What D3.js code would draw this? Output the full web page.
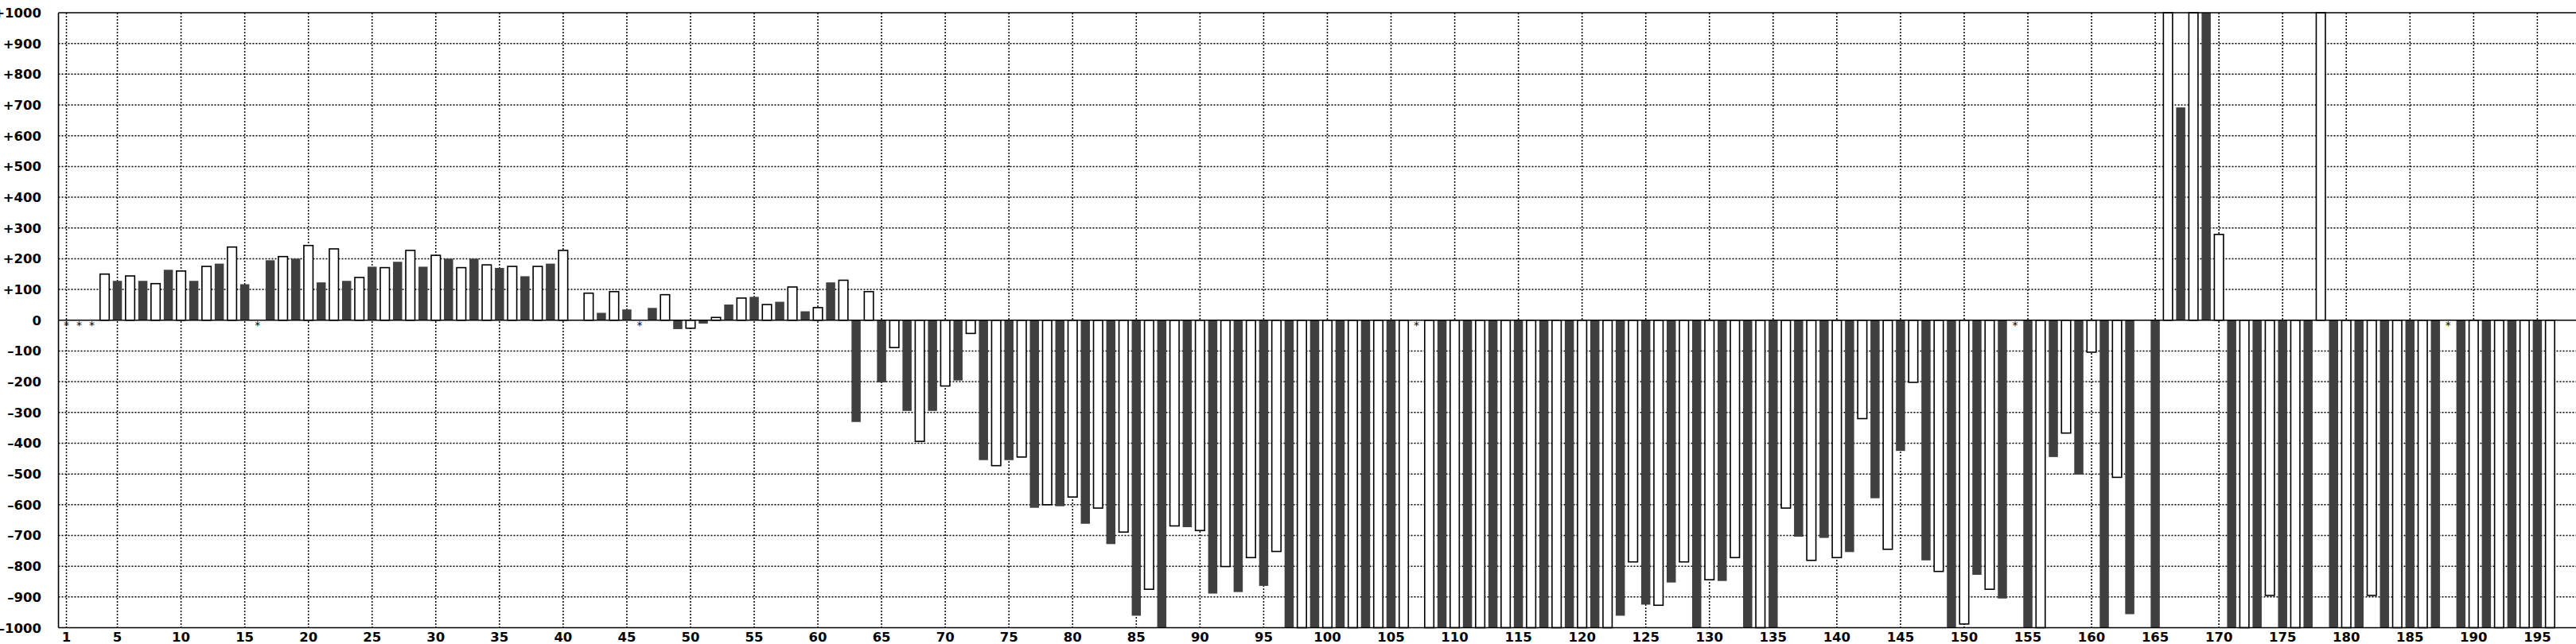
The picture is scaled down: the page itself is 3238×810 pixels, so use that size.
<!DOCTYPE html>
<html>
<head>
<meta charset="utf-8">
<script src="https://cdn.jsdelivr.net/npm/d3@7"></script>
<style>
  html, body { margin: 0; padding: 0; background: #fff; overflow: hidden; }
  svg { display: block; }
  text { font-family: "DejaVu Sans", sans-serif; fill: #000; }
</style>
</head>
<body>
<script>
// ---------------- DATA ----------------
const categories = d3.range(1, 197);
// null = missing value (drawn as "*"), values clipped at +/-1000
const values = [
  null, null, null, 150, 128, 144, 128, 119, 164, 160,        // 1-10
  128, 175, 184, 238, 117, null, 195, 207, 200, 243,          // 11-20
  123, 232, 128, 139, 174, 171, 190, 227, 174, 211,           // 21-30
  200, 171, 200, 180, 170, 175, 143, 175, 184, 227,           // 31-40
  0, 88, 24, 93, 35, null, 40, 83, -29, -26,                  // 41-50
  -11, 9, 51, 72, 76, 51, 60, 108, 29, 41,                    // 51-60
  123, 130, -331, 93, -202, -89, -295, -394, -295, -214,      // 61-70
  -196, -43, -455, -473, -455, -445, -610, -600, -605, -575,  // 71-80
  -662, -611, -728, -689, -961, -875, -1000, -669, -673, -684,// 81-90
  -889, -801, -884, -772, -864, -752, -1000, -1000, -1000, -1000, // 91-100
  -1000, -1000, -1000, -1000, -1000, -1000, null, -1000, -1000, -1000, // 101-110
  -1000, -1000, -1000, -1000, -1000, -1000, -1000, -1000, -1000, -1000, // 111-120
  -1000, -1000, -961, -786, -925, -927, -853, -786, -1000, -844, // 121-130
  -848, -772, -1000, -1000, -1000, -611, -704, -781, -708, -772, // 131-140
  -754, -320, -579, -745, -425, -202, -781, -817, -1000, -988,   // 141-150
  -828, -875, -905, null, -1000, -1000, -445, -367, -502, -104,  // 151-160
  -1000, -511, -956, 0, -1000, 1000, 692, 1000, 1000, 279,       // 161-170
  -1000, -1000, -1000, -895, -1000, -1000, -1000, 1000, -1000, -1000, // 171-180
  -1000, -895, -1000, -1000, -1000, -1000, -1000, null, -1000, -1000, // 181-190
  -1000, -1000, -1000, -1000, -1000, -1000                       // 191-196
];
const yTicks = [1000, 900, 800, 700, 600, 500, 400, 300, 200, 100, 0,
                -100, -200, -300, -400, -500, -600, -700, -800, -900, -1000];
const yTickLabels = ["+1000", "+900", "+800", "+700", "+600", "+500", "+400", "+300", "+200", "+100", "0",
                     "\u2013100", "\u2013200", "\u2013300", "\u2013400", "\u2013500", "\u2013600", "\u2013700", "\u2013800", "\u2013900", "\u20131000"];
const xTicks = [1, 5, 10, 15, 20, 25, 30, 35, 40, 45, 50, 55, 60, 65, 70, 75, 80, 85, 90, 95,
                100, 105, 110, 115, 120, 125, 130, 135, 140, 145, 150, 155, 160, 165, 170, 175, 180, 185, 190, 195];
const xTickLabels = xTicks.map(String);

// ---------------- LAYOUT ----------------
const W = 3238, H = 810;
const plotLeft = 73.5, plotRight = 3245, plotTop = 16, plotBottom = 789.5;
const darkColor = "#404040";
const barW = 11.5;

const svg = d3.select("body").append("svg").attr("width", W).attr("height", H);
svg.append("rect").attr("width", W).attr("height", H).attr("fill", "#fff");

const x = d3.scaleLinear().domain([1, 195]).range([83.5, 3189.4]);
const y = d3.scaleLinear().domain([-1000, 1000]).range([plotBottom, plotTop]).clamp(true);

// grid lines (dotted)
const grid = svg.append("g");
grid.selectAll("line.h").data(yTicks.filter(v => v !== 0 && Math.abs(v) !== 1000)).join("line")
  .attr("x1", plotLeft).attr("x2", plotRight)
  .attr("y1", d => y(d)).attr("y2", d => y(d))
  .attr("stroke", "#000").attr("stroke-width", 1.5).attr("stroke-dasharray", "2,2");
grid.selectAll("line.v").data(xTicks).join("line")
  .attr("x1", d => x(d)).attr("x2", d => x(d))
  .attr("y1", plotTop).attr("y2", plotBottom)
  .attr("stroke", "#000").attr("stroke-width", 1.5).attr("stroke-dasharray", "2,2");

// bars
const data = categories.map((c, i) => ({ c, v: values[i] }));
const bars = svg.append("g");
bars.selectAll("rect").data(data.filter(d => d.v !== null && d.v !== 0)).join("rect")
  .attr("x", d => x(d.c) - barW / 2)
  .attr("width", barW)
  .attr("y", d => Math.min(y(d.v), y(0)))
  .attr("height", d => Math.abs(y(d.v) - y(0)))
  .attr("fill", d => d.c % 2 === 1 ? darkColor : "#fff")
  .attr("stroke", d => d.c % 2 === 1 ? "none" : "#000")
  .attr("stroke-width", 1.6);

// zero line
svg.append("line").attr("x1", plotLeft).attr("x2", plotRight)
  .attr("y1", y(0)).attr("y2", y(0)).attr("stroke", "#000").attr("stroke-width", 1.6);

// missing markers
svg.append("g").selectAll("text").data(data.filter(d => d.v === null)).join("text")
  .attr("x", d => x(d.c)).attr("y", y(0) + 11)
  .attr("text-anchor", "middle").attr("font-size", 14).text("*");

// frame
svg.append("line").attr("x1", plotLeft).attr("x2", plotLeft).attr("y1", plotTop).attr("y2", plotBottom)
  .attr("stroke", "#000").attr("stroke-width", 1.6);
svg.append("line").attr("x1", plotLeft).attr("x2", plotRight).attr("y1", plotTop).attr("y2", plotTop)
  .attr("stroke", "#000").attr("stroke-width", 1.6);
svg.append("line").attr("x1", plotLeft).attr("x2", plotRight).attr("y1", plotBottom).attr("y2", plotBottom)
  .attr("stroke", "#000").attr("stroke-width", 1.6);

// y labels
svg.append("g").selectAll("text").data(yTicks).join("text")
  .attr("x", 52).attr("y", d => y(d) + 6)
  .attr("text-anchor", "end").attr("font-size", 16.5).attr("font-weight", "bold")
  .text((d, i) => yTickLabels[i]);

// x labels
svg.append("g").selectAll("text").data(xTicks).join("text")
  .attr("x", d => x(d)).attr("y", 807)
  .attr("text-anchor", "middle").attr("font-size", 16.5).attr("font-weight", "bold")
  .text((d, i) => xTickLabels[i]);
</script>
</body>
</html>
